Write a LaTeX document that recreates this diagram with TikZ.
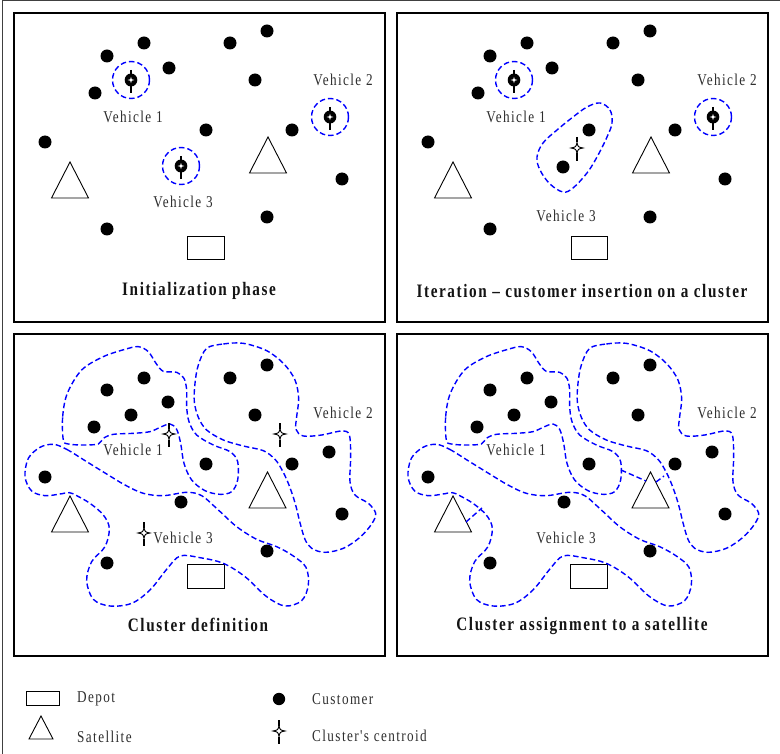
\documentclass[tikz,border=0pt]{standalone}
\usepackage{fontspec}
\newfontfamily\labfont[FakeStretch=0.8,LetterSpace=8.5]{Liberation Serif}
\begin{document}
\begin{tikzpicture}[x=1pt,y=-1pt,
  panel/.style={draw=black,line width=1.3pt},
  sat/.style={draw=black,line width=0.9pt,fill=white,line join=miter},
  depotbox/.style={draw=black,line width=0.9pt,fill=white},
  clus/.style={draw=blue,line width=1.4pt,dash pattern=on 5.5pt off 3pt},
  lab/.style={font=\labfont\fontsize{16.5}{18}\selectfont,text=black!82,inner sep=0pt},
  tit/.style={font=\labfont\bfseries\fontsize{19}{22}\selectfont,text=black!92,inner sep=0pt},
  pics/hcent/.style={code={
    \draw[line width=0.9pt,fill=white] (0,-5.5) .. controls (1,-1) .. (6,0) .. controls (1,1) .. (0,5.5) .. controls (-1,1) .. (-6,0) .. controls (-1,-1) .. (0,-5.5) -- cycle;
    \draw[line width=1.3pt] (0,-11) -- (0,-5.5) (0,5.5) -- (0,13);
  }},
  pics/fcent/.style={code={
    \draw[line width=2.4pt] (0,-10) -- (0,13);
    \fill[black] (0,0) ellipse (6.3 and 6.5);
    \fill[white] (0,-3.2) .. controls (0.5,-0.5) .. (3.4,0) .. controls (0.5,0.5) .. (0,3.2) .. controls (-0.5,0.5) .. (-3.4,0) .. controls (-0.5,-0.5) .. (0,-3.2) -- cycle;
  }}
]
\useasboundingbox (0,0) rectangle (780,754);
\fill[white] (0,0) rectangle (780,754);
% outer frame
\draw[line width=1pt,black!75] (2,754) -- (2,1) -- (780,1);
% panels
\draw[panel] (14,13) rectangle (385,322);
\draw[panel] (397,13) rectangle (768,322);
\draw[panel] (14,334) rectangle (385,656);
\draw[panel] (397,334) rectangle (768,656);

% ---------- Panel 1 ----------
\foreach \x/\y in {107/56,144/43,169/68,95/93,230/43,267/31,255/80,206/130,292/130,45/142,342/179,267/217,107/229}
  {\fill (\x,\y) circle (6.5);}
\draw[sat] (51.5,198) -- (70,162) -- (88.5,198) -- cycle;
\draw[sat] (249.5,173) -- (268,137) -- (286.5,173) -- cycle;
\draw[depotbox] (187,236) rectangle (224,259);
\draw[clus] (131,80) circle (18.5);
\draw[clus] (330,117) circle (18.5);
\draw[clus] (181,166) circle (18.5);
\pic at (131,80) {fcent};
\pic at (330,117) {fcent};
\pic at (181,166) {fcent};
\node[lab] (p1v1) at (133,117) {Vehicle 1};
\node[lab] (p1v2) at (343,80) {Vehicle 2};
\node[lab] (p1v3) at (183,202) {Vehicle 3};
\node[tit] (p1t) at (199,291) {Initialization phase};

% ---------- Panel 2 ----------
\foreach \x/\y in {107/56,144/43,169/68,95/93,230/43,267/31,255/80,206/130,292/130,45/142,342/179,267/217,107/229,180/167}
  {\fill (\x+383,\y) circle (6.5);}
\draw[sat] (434.5,198) -- (453,162) -- (471.5,198) -- cycle;
\draw[sat] (632.5,173) -- (651,137) -- (669.5,173) -- cycle;
\draw[depotbox] (571,236) rectangle (607,259);
\draw[clus] (514,80) circle (18.5);
\draw[clus] (713,117) circle (18.5);
\pic at (514,80) {fcent};
\pic at (713,117) {fcent};
\draw[clus] plot[smooth cycle,tension=0.6] coordinates {(600,103) (610,110) (612,123) (607,137) (597,157) (587,173) (573,188) (563,192) (550,184) (540,170) (537,157) (543,143) (557,130) (573,117) (587,107)};
\pic at (577,148) {hcent};
\node[lab] (p2v1) at (516,117) {Vehicle 1};
\node[lab] (p2v2) at (727,80) {Vehicle 2};
\node[lab] (p2v3) at (566,216) {Vehicle 3};
\node[tit] (p2t) at (582,291) {Iteration – customer insertion on a cluster};

% ---------- Panels 3 and 4: dots, shapes ----------
\foreach \s in {0,383}{
  \foreach \x/\y in {107/390,144/378,168/402,131/415,94/427,230/378,267/365,255/415,206/464,292/464,329/452,45/477,181/502,342/514,267/551,107/563}
    {\fill (\x+\s,\y) circle (6.5);}
  \draw[sat] (51.5+\s,532) -- (70+\s,496) -- (88.5+\s,532) -- cycle;
  \draw[sat] (249+\s,508) -- (267.5+\s,472) -- (286+\s,508) -- cycle;
  \draw[depotbox] (187+\s,564) rectangle (224+\s,588);
  \begin{scope}[shift={(10+\s,330)},scale=1/3]
    % cluster 1
    \draw[clus] plot[smooth cycle,tension=0.55] coordinates {(160,330) (158,260) (172,190) (215,120) (280,80) (345,58) (385,50) (415,65) (438,100) (460,124) (500,127) (522,145) (530,180) (530,230) (537,275) (560,315) (610,345) (660,365) (683,395) (683,450) (665,485) (630,493) (585,482) (545,450) (522,400) (512,340) (500,298) (480,282) (450,292) (420,305) (370,310) (310,313) (280,325) (265,342) (220,345) (175,342)};
    % cluster 2
    \draw[clus] plot[smooth cycle,tension=0.55] coordinates {(590,55) (640,42) (700,40) (770,62) (822,102) (855,150) (866,205) (860,260) (858,298) (880,318) (935,315) (995,303) (1018,315) (1022,380) (1020,455) (1035,495) (1075,520) (1097,550) (1085,582) (1050,622) (1000,655) (945,667) (905,655) (885,628) (870,578) (855,518) (835,460) (815,418) (795,388) (760,362) (700,348) (640,330) (590,300) (565,262) (553,215) (555,160) (565,105)};
    % cluster 3
    \draw[clus] plot[smooth cycle,tension=0.55] coordinates {(130,343) (170,358) (230,395) (290,432) (345,465) (400,490) (460,497) (530,487) (575,497) (625,540) (680,590) (740,628) (800,650) (850,678) (888,712) (895,765) (875,812) (825,828) (770,800) (705,740) (640,700) (570,683) (510,678) (470,718) (420,780) (365,820) (300,828) (250,808) (230,752) (245,695) (285,650) (298,595) (280,555) (240,520) (200,497) (178,488) (150,492) (105,497) (65,483) (45,440) (55,385) (90,352)};
  \end{scope}
}
% panel 3 centroids and labels
\pic at (169,434) {hcent};
\pic at (280,434) {hcent};
\pic at (144,533) {hcent};
\node[lab] (p3v1) at (133,450) {Vehicle 1};
\node[lab] (p3v2) at (343,413) {Vehicle 2};
\node[lab] (p3v3) at (183,538) {Vehicle 3};
\node[tit] (p3t) at (198,625) {Cluster definition};

% panel 4 assignment links and labels
\draw[clus] (466,522) -- (482,508);
\draw[clus] (621,470) -- (646,481);
\draw[clus] (656,482) -- (664,476);
\node[lab] (p4v1) at (516,450) {Vehicle 1};
\node[lab] (p4v2) at (727,413) {Vehicle 2};
\node[lab] (p4v3) at (566,538) {Vehicle 3};
\node[tit] (p4t) at (582,626) {Cluster assignment to a satellite};

% ---------- Legend ----------
\draw[depotbox] (26,691) rectangle (59,705);
\node[lab,anchor=west] (ldep) at (77,699) {Depot};
\draw[sat] (29,739) -- (41,716) -- (53,739) -- cycle;
\node[lab,anchor=west] (lsat) at (77,737) {Satellite};
\fill (279,699) circle (6.2);
\node[lab,anchor=west] (lcus) at (312,699) {Customer};
\pic at (279,731) {hcent};
\node[lab,anchor=west] (lcen) at (312,736) {Cluster's centroid};
\end{tikzpicture}
\end{document}
